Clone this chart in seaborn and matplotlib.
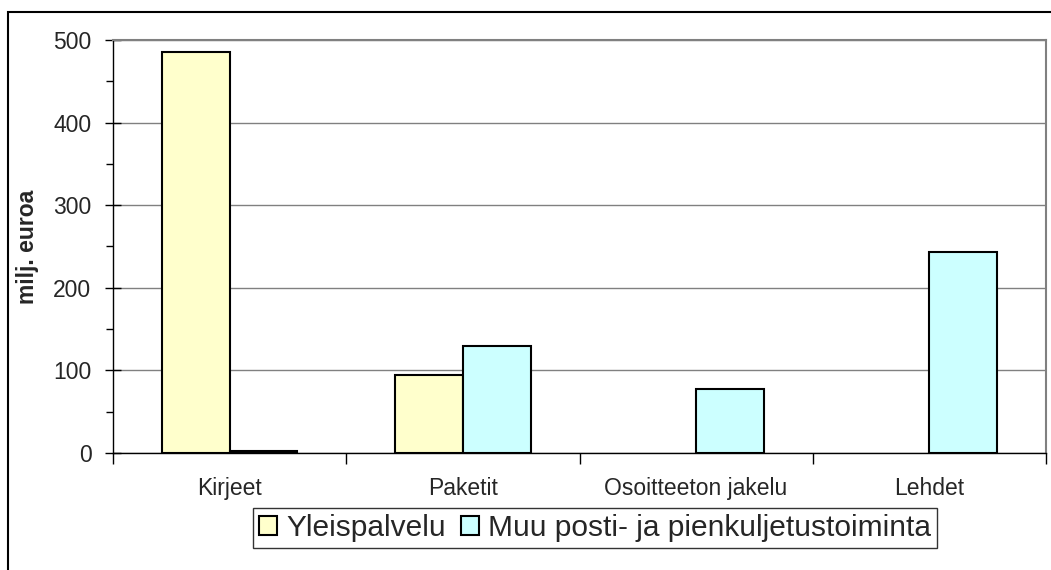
import numpy as np
import pandas as pd
import matplotlib
matplotlib.use("Agg")
import matplotlib.pyplot as plt
import seaborn as sns
from matplotlib.patches import Rectangle
from matplotlib.ticker import MultipleLocator, FixedLocator

categories = ['Kirjeet', 'Paketit', 'Osoitteeton jakelu', 'Lehdet']
series = ['Yleispalvelu', 'Muu posti- ja pienkuljetustoiminta']
yleispalvelu = [485, 95, np.nan, np.nan]
muu = [2, 129, 78, 243]
colors = ['#FFFFCC', '#CCFFFF']

df = pd.DataFrame({
    'kategoria': categories * 2,
    'sarja': [series[0]] * 4 + [series[1]] * 4,
    'arvo': yleispalvelu + muu,
})

sns.set_style('white')
plt.rcParams['font.family'] = ['Liberation Sans', 'DejaVu Sans']

fig = plt.figure(figsize=(10.51, 5.70), dpi=100)
ax = fig.add_axes([113 / 1051, 1 - 453 / 570, (1046 - 113) / 1051, (453 - 40) / 570])

sns.barplot(data=df, x='kategoria', y='arvo', hue='sarja', order=categories,
            hue_order=series, palette=colors, width=0.58, edgecolor='black',
            linewidth=1.5, ax=ax, saturation=1)

ax.set_xlim(-0.5, 3.5)
ax.set_ylim(0, 500)
ax.yaxis.set_major_locator(MultipleLocator(100))
ax.yaxis.set_minor_locator(MultipleLocator(50))
ax.grid(axis='y', color='#808080', linewidth=1)
ax.set_axisbelow(True)
ax.tick_params(axis='y', which='major', length=11, width=1, color='black',
               labelsize=16.5, direction='inout', left=True, pad=10)
ax.tick_params(axis='y', which='minor', length=5, width=1, color='black',
               direction='out', left=True)
ax.xaxis.set_minor_locator(FixedLocator([-0.5, 0.5, 1.5, 2.5, 3.5]))
ax.tick_params(axis='x', which='minor', length=8, width=1, color='black', bottom=True)
ax.tick_params(axis='x', which='major', length=0, labelsize=16.5, pad=17)

for side in ['top', 'right']:
    ax.spines[side].set_color('#808080')
    ax.spines[side].set_linewidth(1.5)
for side in ['left', 'bottom']:
    ax.spines[side].set_color('black')
    ax.spines[side].set_linewidth(1)

ax.set_xlabel('')
ax.set_ylabel('milj. euroa', fontsize=16.5, fontweight='bold', labelpad=10)

ax.legend(loc='center', bbox_to_anchor=(595 / 1051, 1 - 528 / 570),
          bbox_transform=fig.transFigure, ncol=2, fontsize=21.5, frameon=True,
          fancybox=False, edgecolor='black', handlelength=0.6, handleheight=0.6,
          handletextpad=0.3, columnspacing=0.5, borderpad=0.2)
ax.get_legend().get_frame().set_linewidth(1)

fig.patches.append(Rectangle((8 / 1051, -0.1), 1.2, 1 - 12 / 570 + 0.1,
                             transform=fig.transFigure, fill=False,
                             edgecolor='black', linewidth=1.5, clip_on=False))

fig.savefig('out.png', dpi=100, facecolor='white')
